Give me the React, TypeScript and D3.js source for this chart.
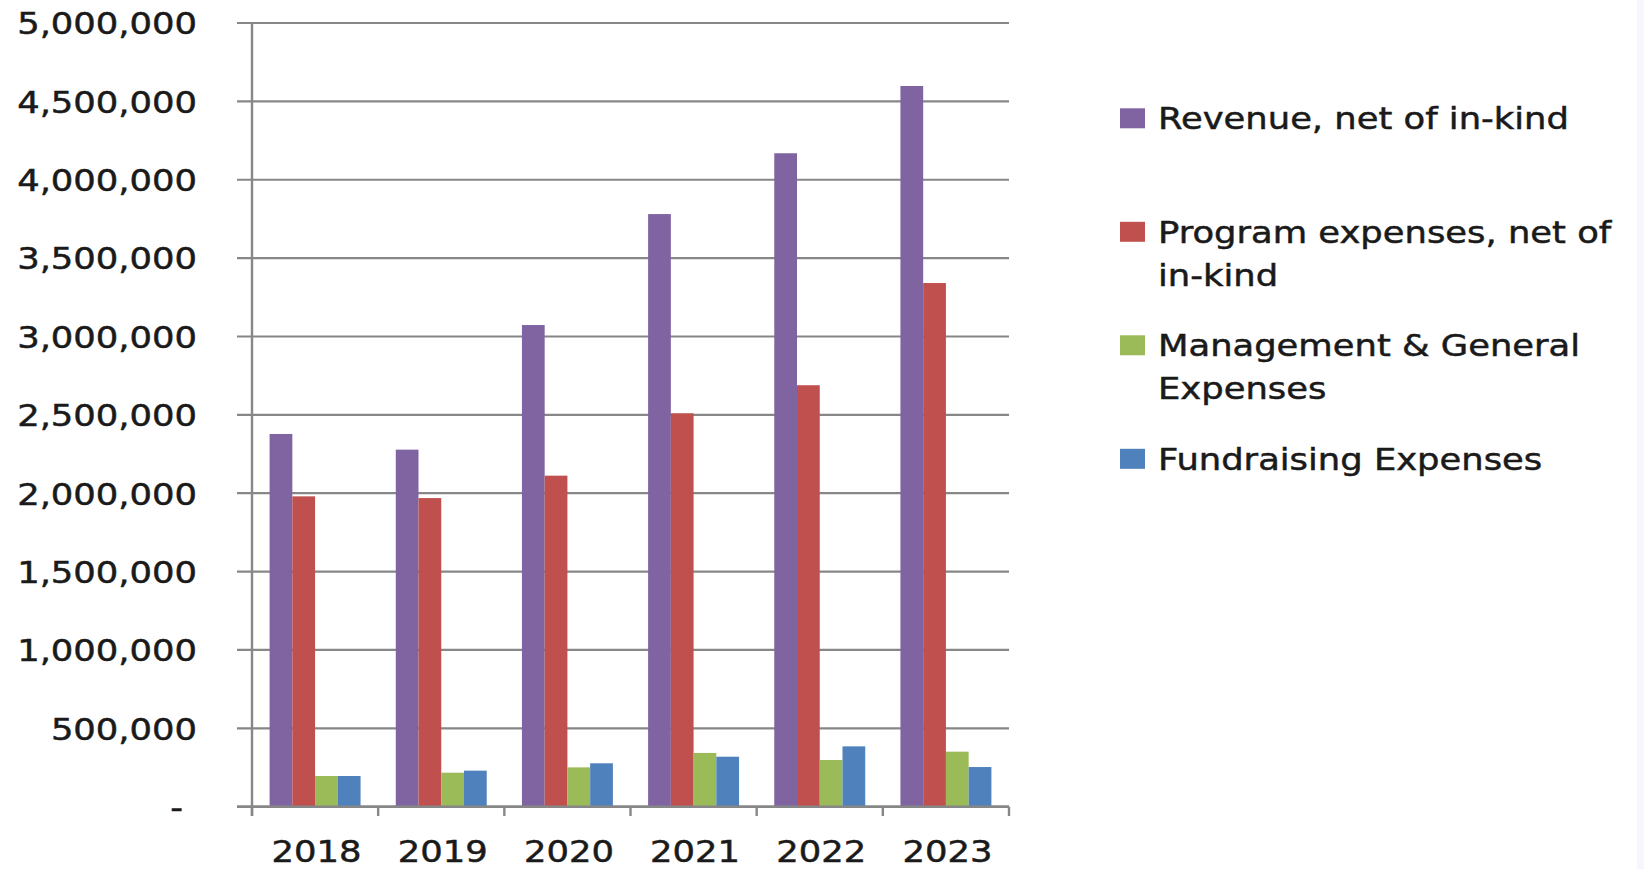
import React from "react";
import * as d3 from "d3";

const years = ["2018", "2019", "2020", "2021", "2022", "2023"];
const seriesNames = [
  "Revenue, net of in-kind",
  "Program expenses, net of in-kind",
  "Management & General Expenses",
  "Fundraising Expenses",
];
const legendLines = [
  ["Revenue, net of in-kind"],
  ["Program expenses, net of", "in-kind"],
  ["Management & General", "Expenses"],
  ["Fundraising Expenses"],
];
const revenue = [2378000, 2278000, 3073000, 3781000, 4169000, 4598000];
const program = [1980000, 1969000, 2112000, 2510000, 2689000, 3341000];
const management = [196000, 217000, 251000, 343000, 298000, 351000];
const fundraising = [196000, 230000, 277000, 319000, 385000, 253000];
const seriesValues = [revenue, program, management, fundraising];
const colors = ["#8064A2", "#C0504D", "#9BBB59", "#4F81BD"];
const yTicks = [0, 500000, 1000000, 1500000, 2000000, 2500000, 3000000, 3500000, 4000000, 4500000, 5000000];

const W = 1644;
const H = 869;
const FONT = "'DejaVu Sans', Verdana, sans-serif";
const FS = 31;
const SX = 1.14;
const TEXT_COLOR = "#1a1a1a";
const GRID = "#878787";

export default function App() {
  const x = d3.scaleBand<string>().domain(years).range([252, 1009]).paddingInner(0).paddingOuter(0);
  const xi = d3
    .scaleBand<string>()
    .domain(seriesNames)
    .range([0, x.bandwidth()])
    .paddingInner(0)
    .paddingOuter(0.774);
  const y = d3.scaleLinear().domain([0, 5000000]).range([806.7, 23]);
  const fmt = d3.format(",");
  const boundaries = years.map((yr) => x(yr)!).concat([x.range()[1]]);
  const textProps = {
    fontFamily: FONT,
    fontSize: FS,
    fill: TEXT_COLOR,
    stroke: TEXT_COLOR,
    strokeWidth: 0.5,
  };

  return (
    <svg
      width={W}
      height={H}
      style={{ position: "fixed", left: 0, top: 0, background: "#fff" }}
      xmlns="http://www.w3.org/2000/svg"
    >
      <rect x={0} y={0} width={W} height={H} fill="#ffffff" />
      <rect x={1637} y={0} width={7} height={H} fill="#f5f7fc" />
      {/* gridlines */}
      {yTicks.map((t) => (
        <line key={"g" + t} x1={237} x2={1009} y1={y(t)} y2={y(t)} stroke={GRID} strokeWidth={2.2} />
      ))}
      {/* bars */}
      {seriesValues.map((vals, si) =>
        vals.map((v, i) => (
          <rect
            key={`b${si}-${i}`}
            x={x(years[i])! + xi(seriesNames[si])!}
            y={y(v)}
            width={xi.bandwidth()}
            height={y(0) - y(v)}
            fill={colors[si]}
          />
        ))
      )}
      {/* axes */}
      <line x1={252} x2={252} y1={y(5000000)} y2={816} stroke={GRID} strokeWidth={2.4} />
      <line x1={237} x2={1009} y1={y(0)} y2={y(0)} stroke={GRID} strokeWidth={2.4} />
      {boundaries.map((bx, i) => (
        <line key={"xt" + i} x1={bx} x2={bx} y1={y(0)} y2={816} stroke={GRID} strokeWidth={2.4} />
      ))}
      {/* y tick labels */}
      {yTicks.map((t) => (
        <text
          key={"yl" + t}
          transform={`translate(${t === 0 ? 183 : 197},${y(t) + 11.3}) scale(${SX},1)`}
          textAnchor="end"
          {...textProps}
        >
          {t === 0 ? "-" : fmt(t)}
        </text>
      ))}
      {/* x labels */}
      {years.map((yr) => (
        <text
          key={"xl" + yr}
          transform={`translate(${x(yr)! + x.bandwidth() / 2 + 1.5},861.5) scale(${SX},1)`}
          textAnchor="middle"
          {...textProps}
        >
          {yr}
        </text>
      ))}
      {/* legend */}
      {legendLines.map((lines, i) => {
        const base = 129.3 + i * 113.5;
        return (
          <g key={"lg" + i}>
            <rect x={1120} y={base - 21} width={25} height={20} fill={colors[i]} />
            {lines.map((ln, j) => (
              <text key={j} transform={`translate(1158,${base + j * 43}) scale(${SX},1)`} {...textProps}>
                {ln}
              </text>
            ))}
          </g>
        );
      })}
    </svg>
  );
}
